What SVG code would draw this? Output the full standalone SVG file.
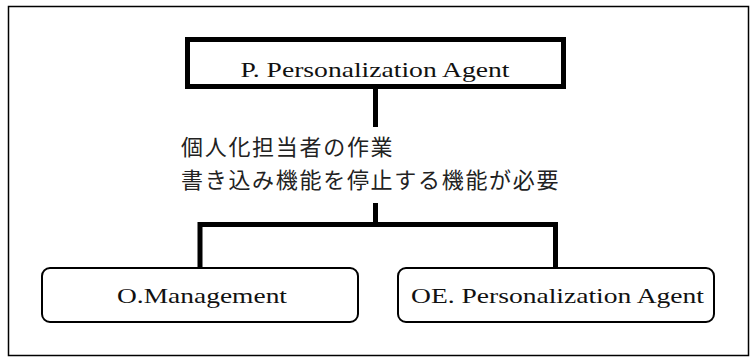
<svg xmlns="http://www.w3.org/2000/svg" width="752" height="358" viewBox="0 0 752 358">
<style>
.lat{font-family:"Liberation Serif","Times New Roman",serif;font-size:21.5px;fill:#111}
.jp{font-family:"Noto Sans CJK JP","Noto Sans",sans-serif;font-size:22px;letter-spacing:1.7px;fill:#222}
.conn{fill:none;stroke:#000;stroke-width:5}
.leaf{fill:#fff;stroke:#000;stroke-width:2}
</style>
<rect x="0" y="0" width="752" height="358" fill="#fff"/>
<rect id="frame" x="8.5" y="6.5" width="740" height="349" fill="none" stroke="#000" stroke-width="1.5"/>
<g id="connectors">
<line class="conn" x1="375.5" y1="86" x2="375.5" y2="127"/>
<polyline class="conn" points="375.5,203 375.5,224.5 200,224.5 200,269"/>
<polyline class="conn" points="375.5,224.5 555.5,224.5 555.5,269"/>
</g>
<g id="label">
<text class="jp"><tspan x="181" y="155">個人化担当者の作業</tspan><tspan x="181" y="187.5">書き込み機能を停止する機能が必要</tspan></text>
</g>
<g id="p-agent">
<rect x="187.5" y="39.5" width="376" height="47" fill="#fff" stroke="#000" stroke-width="5"/>
<text class="lat" x="375" y="77" text-anchor="middle" textLength="269" lengthAdjust="spacingAndGlyphs">P. Personalization Agent</text>
</g>
<g id="o-management">
<rect class="leaf" x="42" y="268" width="316" height="54" rx="8"/>
<text class="lat" x="202" y="303" text-anchor="middle" textLength="170" lengthAdjust="spacingAndGlyphs">O.Management</text>
</g>
<g id="oe-agent">
<rect class="leaf" x="398" y="268" width="316" height="54" rx="8"/>
<text class="lat" x="557.5" y="303" text-anchor="middle" textLength="293" lengthAdjust="spacingAndGlyphs">OE. Personalization Agent</text>
</g>
</svg>
